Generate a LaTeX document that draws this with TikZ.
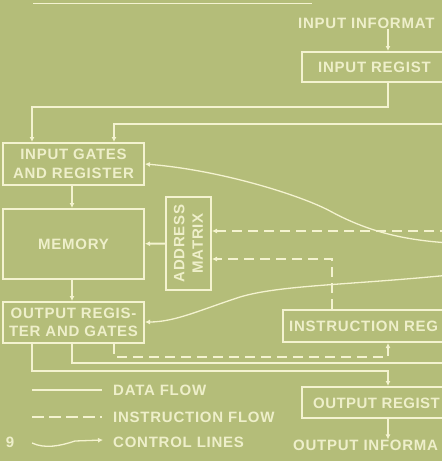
\documentclass[tikz,border=0pt]{standalone}
\usepackage{fontspec}
\usetikzlibrary{arrows.meta}
\newfontfamily\lbl[LetterSpace=5]{Liberation Sans Bold}
\definecolor{bg}{RGB}{180,189,121}
\definecolor{ln}{RGB}{244,243,208}
\definecolor{tx}{RGB}{238,239,202}
\begin{document}
\begin{tikzpicture}[x=1pt,y=-1pt,
  box/.style={draw=ln, line width=2pt, inner sep=0pt},
  lbltxt/.style={text=tx, font=\lbl\fontsize{15}{18.5}\selectfont, inner sep=0pt},
  data/.style={draw=ln, line width=2pt},
  instr/.style={draw=ln, line width=2pt, dash pattern=on 10pt off 6pt},
  ctrl/.style={draw=ln, line width=1.3pt},
  tip/.style={-{Latex[length=5pt,width=5pt]}}
]
\fill[bg] (0,0) rectangle (442,461);
\useasboundingbox (0,0) rectangle (442,461);
\clip (0,0) rectangle (442,461);

% top rule (edge of previous figure)
\coordinate (t1) at (33,3);
\coordinate (t2) at (312,3);
\draw[ln, line width=1pt] (t1) -- (t2);

% column coordinates
\coordinate (xA) at (32,0);
\coordinate (xB) at (114,0);
\coordinate (xM) at (72,0);
\coordinate (xR) at (388,0);
\coordinate (xD) at (332,0);

% boxes
\node[box, minimum width=141pt, minimum height=42pt] (ingates) at (73.5,164) {};
\node[box, minimum width=141pt, minimum height=70pt] (memory) at (73.5,244) {};
\node[box, minimum width=141pt, minimum height=41pt] (outreg) at (73.5,322.5) {};
\node[box, minimum width=45pt, minimum height=93pt] (addr) at (188.5,243.5) {};
\node[box, minimum width=158pt, minimum height=30pt] (inreg) at (381,67) {};
\node[box, minimum width=177pt, minimum height=32pt] (instreg) at (371.5,326) {};
\node[box, minimum width=158pt, minimum height=31pt] (outregR) at (381,402.5) {};

% texts in boxes
\node[lbltxt, align=center] (ingatesT) at (ingates) {INPUT GATES\\AND REGISTER};
\node[lbltxt] (memoryT) at (memory) {MEMORY};
\node[lbltxt, align=center] (outregT) at (outreg) {OUTPUT REGIS-\\TER AND GATES};
\node[lbltxt, align=center, rotate=90] (addrT) at (addr) {ADDRESS\\MATRIX};
\node[lbltxt, anchor=west] (inregT) at (318,67) {INPUT REGIST};
\node[lbltxt, anchor=west] (instregT) at (289,326) {INSTRUCTION REG};
\node[lbltxt, anchor=west] (outregRT) at (313,403) {\addfontfeature{LetterSpace=3}OUTPUT REGIST};
\node[lbltxt, anchor=west] (ininfo) at (298,23) {INPUT INFORMAT};
\node[lbltxt, anchor=west] (outinfo) at (293,445) {OUTPUT INFORMA};

% data flow
\draw[data, tip] (ininfo.south -| xR) -- (inreg.north -| xR);
\draw[data, tip] (inreg.south -| xR) -- ++(0,24) -| (ingates.north -| xA);
\coordinate (e1) at (450,124);
\draw[data, tip] (e1) -| (ingates.north -| xB);
\draw[data, tip] (ingates.south -| xM) -- (memory.north -| xM);
\draw[data, tip] (memory.south -| xM) -- (outreg.north -| xM);
\draw[data, tip] (addr) -- (memory);
\coordinate (e4) at (450,363);
\draw[data] (outreg.south -| xM) |- (e4);
\coordinate (k1) at (388,371);
\draw[data, tip] (outreg.south -| xA) |- (k1) -- (outregR.north -| xR);
\draw[data, tip] (outregR.south -| xR) -- (outinfo.north -| xR);

% instruction flow
\coordinate (e2) at (450,231);
\draw[instr, tip] (e2) -- (addr.east |- e2);
\coordinate (k2) at (332,259);
\draw[instr, tip] (instreg.north -| xD) -- (k2) -- (addr.east |- k2);
\coordinate (k3) at (388,357);
\draw[instr, tip] (outreg.south -| xB) |- (k3) -- (instreg.south -| xR);

% control lines
\coordinate (e3) at (450,243);
\coordinate (ci1) at (ingates.east |- 0,164);
\draw[ctrl, tip] (e3) .. controls (400,240) and (365,230) .. (330,211)
  .. controls (300,195) and (220,170) .. (ci1);
\coordinate (e5) at (450,275);
\coordinate (ci2) at (outreg.east |- 0,322);
\draw[ctrl, tip] (e5) .. controls (350,285) and (280,285) .. (240,297)
  .. controls (200,310) and (175,322) .. (ci2);

% legend
\coordinate (l1a) at (32,390); \coordinate (l1b) at (102,390);
\coordinate (l2a) at (32,417); \coordinate (l2b) at (102,417);
\coordinate (l3a) at (32,443); \coordinate (l3b) at (103,440);
\draw[data] (l1a) -- (l1b);
\draw[draw=ln, line width=2pt, dash pattern=on 12pt off 5pt] (l2a) -- (l2b);
\draw[ctrl, tip] (l3a) .. controls (45,449) and (60,446) .. (75,441) -- (l3b);
\node[lbltxt, anchor=west] (lgd1) at (113,390) {DATA FLOW};
\node[lbltxt, anchor=west] (lgd2) at (113,417) {INSTRUCTION FLOW};
\node[lbltxt, anchor=west] (lgd3) at (113,442) {CONTROL LINES};
\node[lbltxt] (fignum) at (10,442) {9};
\end{tikzpicture}
\end{document}
